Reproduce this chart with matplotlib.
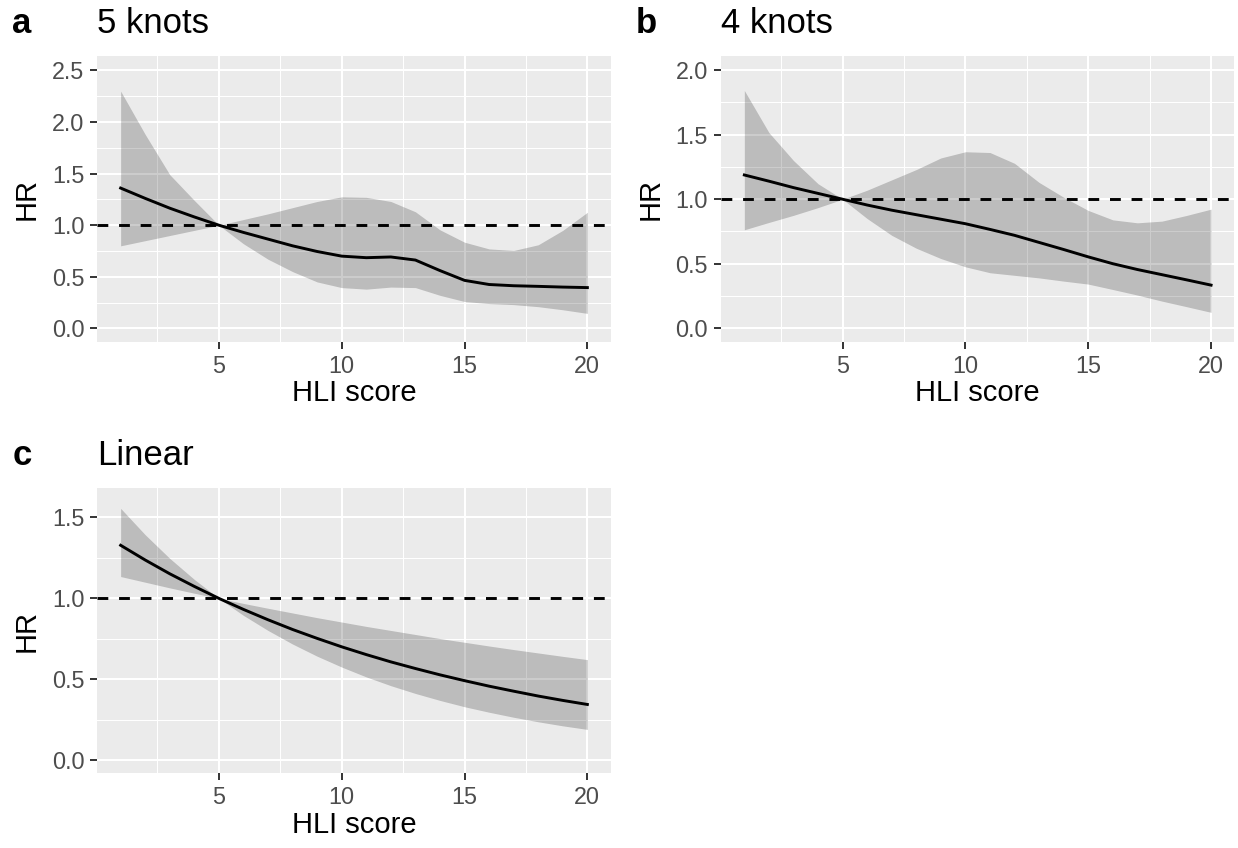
import numpy as np
import matplotlib
matplotlib.use("Agg")
import matplotlib.pyplot as plt
from matplotlib.ticker import MultipleLocator

plt.rcParams["font.family"] = ["Liberation Sans", "DejaVu Sans"]

# HLI score grid
hli = [1, 2, 3, 4, 5, 6, 7, 8, 9, 10, 11, 12, 13, 14, 15, 16, 17, 18, 19, 20]

# a: 5 knots
hr_5k = [1.36, 1.26, 1.165, 1.08, 1.0, 0.93, 0.865, 0.80, 0.745, 0.70,
         0.685, 0.692, 0.662, 0.56, 0.465, 0.425, 0.413, 0.407, 0.40, 0.395]
lo_5k = [0.80, 0.85, 0.90, 0.95, 1.0, 0.82, 0.67, 0.55, 0.45, 0.395,
         0.38, 0.40, 0.395, 0.32, 0.26, 0.24, 0.23, 0.21, 0.18, 0.145]
hi_5k = [2.30, 1.88, 1.49, 1.24, 1.0, 1.055, 1.11, 1.17, 1.23, 1.275,
         1.27, 1.23, 1.13, 0.955, 0.835, 0.77, 0.755, 0.81, 0.95, 1.125]

# b: 4 knots
hr_4k = [1.188, 1.14, 1.09, 1.045, 1.0, 0.955, 0.915, 0.88, 0.845, 0.81,
         0.766, 0.72, 0.665, 0.61, 0.553, 0.50, 0.455, 0.415, 0.375, 0.334]
lo_4k = [0.763, 0.82, 0.875, 0.935, 1.0, 0.85, 0.72, 0.62, 0.54, 0.476,
         0.43, 0.41, 0.39, 0.365, 0.342, 0.30, 0.257, 0.21, 0.167, 0.123]
hi_4k = [1.843, 1.517, 1.30, 1.12, 1.0, 1.07, 1.15, 1.23, 1.32, 1.368,
         1.362, 1.278, 1.13, 1.015, 0.913, 0.84, 0.817, 0.83, 0.874, 0.923]

# c: linear
hr_lin = [1.328, 1.237, 1.152, 1.074, 1.0, 0.932, 0.868, 0.808, 0.753, 0.701,
          0.653, 0.608, 0.567, 0.528, 0.492, 0.458, 0.427, 0.397, 0.370, 0.345]
lo_lin = [1.135, 1.100, 1.065, 1.032, 1.0, 0.895, 0.802, 0.718, 0.643, 0.576,
          0.515, 0.461, 0.413, 0.370, 0.331, 0.297, 0.266, 0.238, 0.213, 0.191]
hi_lin = [1.556, 1.393, 1.247, 1.117, 1.0, 0.969, 0.939, 0.910, 0.881, 0.854,
          0.827, 0.802, 0.777, 0.752, 0.729, 0.706, 0.684, 0.663, 0.642, 0.622]

panels = [
    ("a", "5 knots", hr_5k, lo_5k, hi_5k, (-0.13, 2.64), [0.0786, 0.597, 0.4147, 0.3369]),
    ("b", "4 knots", hr_4k, lo_4k, hi_4k, (-0.105, 2.11), [0.5824, 0.597, 0.4147, 0.3369]),
    ("c", "Linear", hr_lin, lo_lin, hi_lin, (-0.08, 1.68), [0.0786, 0.0881, 0.4147, 0.3361]),
]

fig = plt.figure(figsize=(12.38, 8.48), dpi=100)

for tag, title, hr, lo, hi, ylim, pos in panels:
    ax = fig.add_axes(pos)
    ax.set_facecolor("#EBEBEB")
    for s in ax.spines.values():
        s.set_visible(False)
    ax.set_xlim(0.05, 20.95)
    ax.set_ylim(*ylim)
    ax.xaxis.set_major_locator(MultipleLocator(5))
    ax.xaxis.set_minor_locator(MultipleLocator(2.5))
    ax.yaxis.set_major_locator(MultipleLocator(0.5))
    ax.yaxis.set_minor_locator(MultipleLocator(0.25))
    ax.grid(which="major", color="white", lw=1.5)
    ax.grid(which="minor", color="white", lw=0.75)
    ax.set_axisbelow(True)
    ax.tick_params(which="major", length=4.8, width=1.4, color="#333333",
                   labelsize=16.8, labelcolor="#4D4D4D", pad=4.5)
    ax.tick_params(which="minor", length=0)
    ax.yaxis.set_major_formatter(matplotlib.ticker.FormatStrFormatter("%.1f"))

    ax.fill_between(hli, lo, hi, color="black", alpha=0.2, lw=0)
    ax.axhline(1, color="black", lw=2.1, ls=(0, (3.7, 3.7)))
    ax.plot(hli, hr, color="black", lw=2.1)

    ax.set_xlabel("HLI score", fontsize=21, va="center")
    ax.xaxis.set_label_coords(0.5, -0.18)
    ax.set_ylabel("HR", fontsize=21, va="center")
    ax.yaxis.set_label_coords(-0.137, 0.5)

    x0 = pos[0]
    ytop = pos[1] + pos[3] + 23 / 848
    fig.text(x0, ytop, title, fontsize=25, ha="left", va="baseline")
    fig.text(x0 - 85 / 1238, ytop, tag, fontsize=25, fontweight="bold",
             ha="left", va="baseline")

plt.savefig("out.png", dpi=100, facecolor="white")
